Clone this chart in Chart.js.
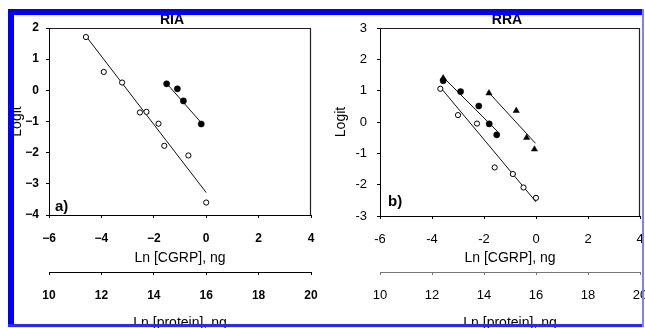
<!DOCTYPE html>
<html><head><meta charset="utf-8">
<script src="https://cdn.jsdelivr.net/npm/chart.js@4.4.1/dist/chart.umd.min.js"></script>
<style>
html,body{margin:0;padding:0;background:#fff;overflow:hidden;}
#wrap{position:relative;width:645px;height:328px;overflow:hidden;background:#fff;}
#c1{position:absolute;left:0;top:0;}
#c2{position:absolute;left:320px;top:0;}
.bar{position:absolute;}
</style></head><body>
<div id="wrap">
<canvas id="c1" width="325" height="328"></canvas>
<canvas id="c2" width="325" height="328"></canvas>
<div class="bar" style="left:8px;top:9px;width:636px;height:6px;background:#0000ff"></div>
<div class="bar" style="left:8px;top:9px;width:6px;height:318px;background:#0000ff"></div>
<div class="bar" style="left:8px;top:324px;width:636px;height:3px;background:#2a2aff"></div>
<div class="bar" style="left:642px;top:9px;width:2px;height:318px;background:#8080ff"></div>
</div>
<script>
// ---------- data ----------
const panelTitles = ['RIA', 'RRA'];
const panelLetters = ['a)', 'b)'];
const xTitle = 'Ln [CGRP], ng';
const x2Title = 'Ln [protein], ng';
const yTitle = 'Logit';

const cgrpTickValues = [-6, -4, -2, 0, 2, 4];
const cgrpTickLabelsA = ['\u22126', '\u22124', '\u22122', '0', '2', '4'];
const cgrpTickLabelsB = ['-6', '-4', '-2', '0', '2', '4'];
const proteinTickValues = [10, 12, 14, 16, 18, 20];
const proteinTickLabels = ['10', '12', '14', '16', '18', '20'];
const logitTickValuesA = [-4, -3, -2, -1, 0, 1, 2];
const logitTickLabelsA = ['\u22124', '\u22123', '\u22122', '\u22121', '0', '1', '2'];
const logitTickValuesB = [-3, -2, -1, 0, 1, 2, 3];
const logitTickLabelsB = ['-3', '-2', '-1', '0', '1', '2', '3'];

// RIA (panel a)
const riaOpenX = [-4.59, -3.91, -3.21, -2.53, -2.28, -1.82, -1.60, -0.68, 0.0];
const riaOpenY = [1.71, 0.59, 0.25, -0.71, -0.69, -1.07, -1.78, -2.09, -3.60];
const riaOpenFitX = [-4.60, 0.0];
const riaOpenFitY = [1.75, -3.28];
const riaFilledX = [-1.51, -1.10, -0.87, -0.19];
const riaFilledY = [0.21, 0.05, -0.34, -1.08];
const riaFilledFitX = [-1.54, -0.23];
const riaFilledFitY = [0.25, -1.00];

// RRA (panel b)
const rraOpenX = [-3.68, -3.00, -2.27, -1.59, -0.89, -0.48, 0.0];
const rraOpenY = [1.06, 0.22, -0.05, -1.45, -1.66, -2.09, -2.42];
const rraOpenFitX = [-3.70, 0.0];
const rraOpenFitY = [1.13, -2.55];
const rraFilledX = [-3.57, -2.90, -2.20, -1.80, -1.51];
const rraFilledY = [1.32, 0.97, 0.51, -0.06, -0.41];
const rraFilledFitX = [-3.57, -1.47];
const rraFilledFitY = [1.43, -0.31];
const rraTriX = [-3.57, -1.81, -0.76, -0.36, -0.06];
const rraTriY = [1.40, 0.92, 0.36, -0.50, -0.87];
const rraTriFitX = [-1.85, -0.02];
const rraTriFitY = [0.97, -0.68];

// ---------- helpers ----------
const FONT = "'Liberation Sans', Arial, Helvetica, sans-serif";
Chart.defaults.font.family = FONT;
Chart.defaults.color = '#000';

const pts = (xs, ys) => xs.map((x, i) => ({x, y: ys[i]}));
const openDs = (xs, ys) => ({data: pts(xs, ys), pointStyle: 'circle', pointRadius: 2.6, pointBorderWidth: 1,
  pointBackgroundColor: '#fff', pointBorderColor: '#000', showLine: false});
const filledDs = (xs, ys) => ({data: pts(xs, ys), pointStyle: 'circle', pointRadius: 3.1, pointBorderWidth: 0.5,
  pointBackgroundColor: '#000', pointBorderColor: '#000', showLine: false});
const triDs = (xs, ys) => ({data: pts(xs, ys), pointStyle: 'triangle', pointRadius: 3.6, pointBorderWidth: 0.5,
  pointBackgroundColor: '#000', pointBorderColor: '#000', showLine: false});
const lineDs = (xs, ys) => ({data: pts(xs, ys), showLine: true, pointRadius: 0, borderColor: '#111', borderWidth: 1, fill: false});

const decor = {
  id: 'decor',
  afterDraw(chart, args, o) {
    const {ctx, chartArea: a} = chart;
    ctx.save();
    ctx.strokeStyle = '#222';
    ctx.lineWidth = 1.2;
    ctx.beginPath();
    ctx.moveTo(Math.round(a.left) + 0.5, Math.round(a.top) + 0.5);
    ctx.lineTo(Math.round(a.right) - 0.5, Math.round(a.top) + 0.5);
    ctx.lineTo(Math.round(a.right) - 0.5, Math.round(a.bottom));
    ctx.stroke();
    ctx.fillStyle = '#000';
    ctx.font = 'bold 14px ' + FONT;
    ctx.textAlign = 'center';
    ctx.textBaseline = 'alphabetic';
    ctx.fillText(o.title, (a.left + a.right) / 2 + o.titleDx, o.titleBase);
    ctx.font = 'bold 15px ' + FONT;
    ctx.textAlign = 'left';
    ctx.fillText(o.letter, a.left + o.letterDx, a.bottom - o.letterDy);
    ctx.restore();
  }
};

const noSidePad = s => { s.paddingLeft = 0; s.paddingRight = 0; };

function makeChart(id, cfg) {
  const tickFont = cfg.tickFont;
  return new Chart(document.getElementById(id), {
    type: 'scatter',
    data: {datasets: cfg.datasets},
    options: {
      responsive: false, animation: false, devicePixelRatio: 1,
      layout: {padding: {left: 0, top: 28, right: cfg.padRight, bottom: 0}},
      plugins: {legend: {display: false}, tooltip: {enabled: false}, title: {display: false},
        decor: cfg.decor},
      scales: {
        x: {type: 'linear', position: 'bottom', min: -6, max: 4, weight: 0,
          afterBuildTicks: s => { s.ticks = cgrpTickValues.map(v => ({value: v})); },
          ticks: {callback: (v, i) => cfg.xLabels[i], font: tickFont, color: '#000', padding: cfg.xPad,
            maxRotation: 0, autoSkip: false},
          grid: {display: true, drawOnChartArea: false, drawTicks: true, tickLength: 3, tickColor: '#000', tickWidth: 1},
          border: {display: true, color: '#000', width: 1},
          title: {display: true, text: xTitle, font: {size: 14}, color: '#000', padding: {top: 0, bottom: 5}},
          afterFit: s => { s.height = cfg.xH; noSidePad(s); }
        },
        x2: {type: 'linear', position: 'bottom', min: 10, max: 20, weight: 1,
          afterBuildTicks: s => { s.ticks = proteinTickValues.map(v => ({value: v})); },
          ticks: {callback: (v, i) => proteinTickLabels[i], font: tickFont, color: '#000', padding: 13,
            maxRotation: 0, autoSkip: false},
          grid: {display: true, drawOnChartArea: false, drawTicks: true, tickLength: 3, tickColor: cfg.x2Color, tickWidth: 1},
          border: {display: true, color: cfg.x2Color, width: 1},
          title: {display: true, text: x2Title, font: {size: 14}, color: '#000', padding: {top: 0, bottom: -4}},
          afterFit: s => { s.height = cfg.x2H; noSidePad(s); }
        },
        y: {type: 'linear', position: 'left', min: cfg.yMin, max: cfg.yMax,
          afterBuildTicks: s => { s.ticks = cfg.yValues.map(v => ({value: v})); },
          ticks: {callback: (v, i) => cfg.yLabels[i], font: tickFont, color: '#000', padding: cfg.yPad, autoSkip: false},
          grid: {display: true, drawOnChartArea: false, drawTicks: true, tickLength: 3, tickColor: '#000', tickWidth: 1},
          border: {display: true, color: '#000', width: 1},
          title: {display: true, text: yTitle, font: {size: 14}, color: '#000', padding: {top: cfg.yTitlePad, bottom: 0}},
          afterFit: s => { s.width = cfg.yW; s.paddingTop = 0; s.paddingBottom = 0; }
        }
      }
    },
    plugins: [decor]
  });
}

makeChart('c1', {
  datasets: [
    openDs(riaOpenX, riaOpenY), filledDs(riaFilledX, riaFilledY),
    lineDs(riaOpenFitX, riaOpenFitY), lineDs(riaFilledFitX, riaFilledFitY)
  ],
  tickFont: {size: 12, weight: 'bold'},
  xLabels: cgrpTickLabelsA, yLabels: logitTickLabelsA, yValues: logitTickValuesA,
  yMin: -4, yMax: 2, padRight: 14, yW: 49, xH: 57, x2H: 56, xPad: 13, yPad: 7, yTitlePad: 9,
  x2Color: '#000',
  decor: {title: panelTitles[0], titleDx: -8, titleBase: 24, letter: panelLetters[0], letterDx: 6, letterDy: 4}
});

makeChart('c2', {
  datasets: [
    openDs(rraOpenX, rraOpenY), filledDs(rraFilledX, rraFilledY), triDs(rraTriX, rraTriY),
    lineDs(rraOpenFitX, rraOpenFitY), lineDs(rraFilledFitX, rraFilledFitY), lineDs(rraTriFitX, rraTriFitY)
  ],
  tickFont: {size: 13},
  xLabels: cgrpTickLabelsB, yLabels: logitTickLabelsB, yValues: logitTickValuesB,
  yMin: -3, yMax: 3, padRight: 4, yW: 60, xH: 56, x2H: 56, xPad: 13, yPad: 10, yTitlePad: 13,
  x2Color: '#777',
  decor: {title: panelTitles[1], titleDx: -3, titleBase: 24, letter: panelLetters[1], letterDx: 8, letterDy: 10}
});
</script>
</body></html>
